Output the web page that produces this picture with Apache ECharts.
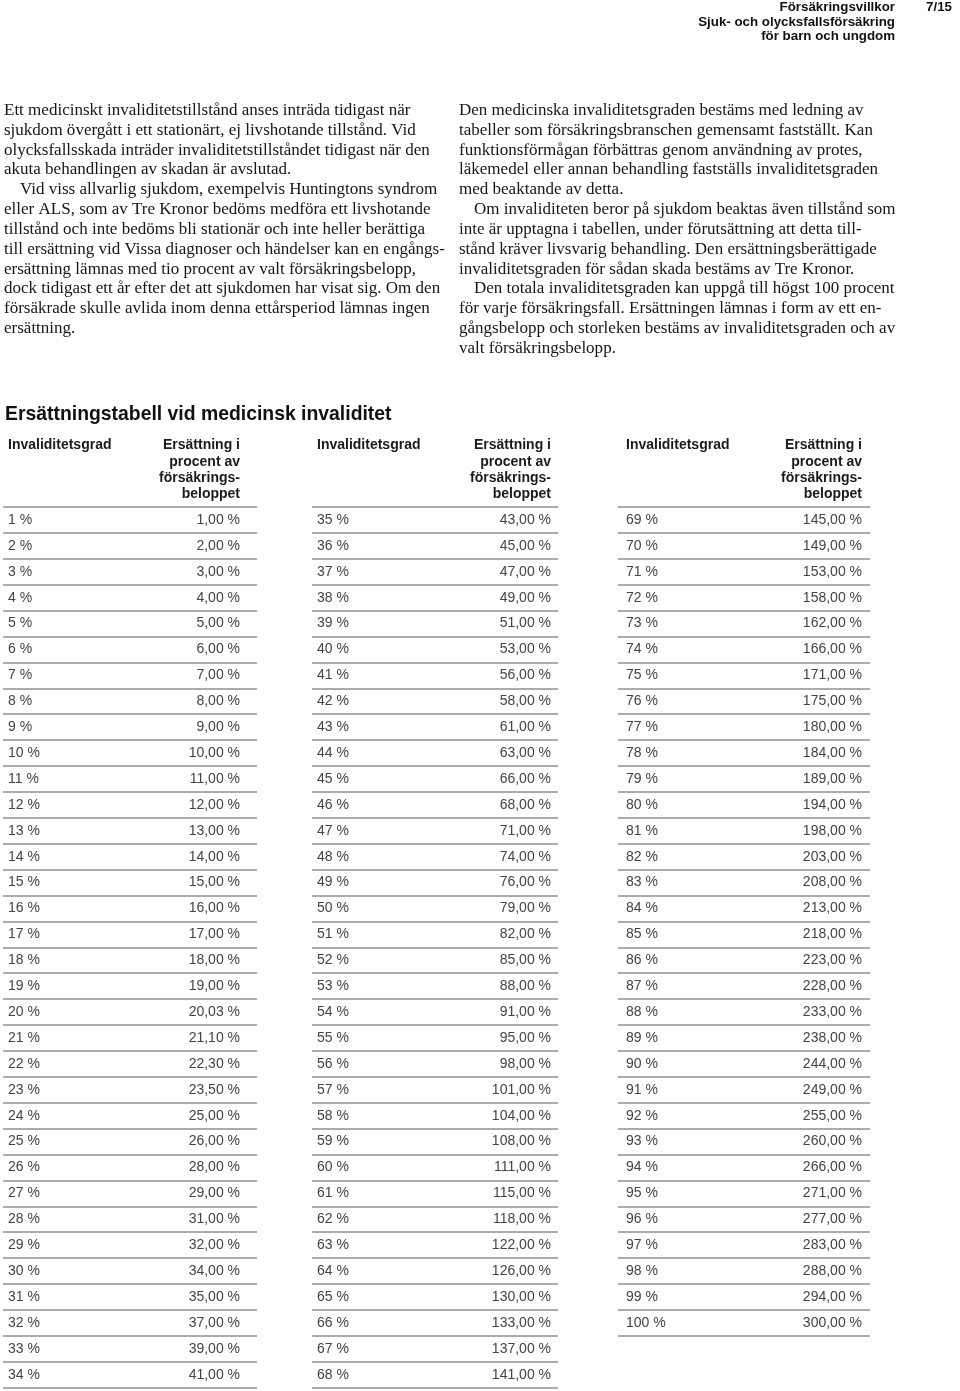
<!DOCTYPE html>
<html><head><meta charset="utf-8">
<script src="https://cdn.jsdelivr.net/npm/echarts@6/dist/echarts.min.js"></script>
<style>html,body{margin:0;padding:0;background:#fff}#c{width:960px;height:1391px}</style>
</head><body><div id="c"></div>
<script>
// ---- data ----
const degreesA = ["1 %","2 %","3 %","4 %","5 %","6 %","7 %","8 %","9 %","10 %","11 %","12 %","13 %","14 %","15 %","16 %","17 %","18 %","19 %","20 %","21 %","22 %","23 %","24 %","25 %","26 %","27 %","28 %","29 %","30 %","31 %","32 %","33 %","34 %"];
const valuesA = [1.00,2.00,3.00,4.00,5.00,6.00,7.00,8.00,9.00,10.00,11.00,12.00,13.00,14.00,15.00,16.00,17.00,18.00,19.00,20.03,21.10,22.30,23.50,25.00,26.00,28.00,29.00,31.00,32.00,34.00,35.00,37.00,39.00,41.00];
const degreesB = ["35 %","36 %","37 %","38 %","39 %","40 %","41 %","42 %","43 %","44 %","45 %","46 %","47 %","48 %","49 %","50 %","51 %","52 %","53 %","54 %","55 %","56 %","57 %","58 %","59 %","60 %","61 %","62 %","63 %","64 %","65 %","66 %","67 %","68 %"];
const valuesB = [43.00,45.00,47.00,49.00,51.00,53.00,56.00,58.00,61.00,63.00,66.00,68.00,71.00,74.00,76.00,79.00,82.00,85.00,88.00,91.00,95.00,98.00,101.00,104.00,108.00,111.00,115.00,118.00,122.00,126.00,130.00,133.00,137.00,141.00];
const degreesC = ["69 %","70 %","71 %","72 %","73 %","74 %","75 %","76 %","77 %","78 %","79 %","80 %","81 %","82 %","83 %","84 %","85 %","86 %","87 %","88 %","89 %","90 %","91 %","92 %","93 %","94 %","95 %","96 %","97 %","98 %","99 %","100 %"];
const valuesC = [145.00,149.00,153.00,158.00,162.00,166.00,171.00,175.00,180.00,184.00,189.00,194.00,198.00,203.00,208.00,213.00,218.00,223.00,228.00,233.00,238.00,244.00,249.00,255.00,260.00,266.00,271.00,277.00,283.00,288.00,294.00,300.00];
const headerDegree = "Invaliditetsgrad";
const headerValue = ["Ersättning i","procent av","försäkrings-","beloppet"];
const tableTitle = "Ersättningstabell vid medicinsk invaliditet";
const pageHeader = ["Försäkringsvillkor","Sjuk- och olycksfallsförsäkring","för barn och ungdom"];
const pageNumber = "7/15";
const leftText = [
 ["Ett medicinskt invaliditetstillstånd anses inträda tidigast när",0],
 ["sjukdom övergått i ett stationärt, ej livshotande tillstånd. Vid",0],
 ["olycksfallsskada inträder invaliditetstillståndet tidigast när den",0],
 ["akuta behandlingen av skadan är avslutad.",0],
 ["Vid viss allvarlig sjukdom, exempelvis Huntingtons syndrom",1],
 ["eller ALS, som av Tre Kronor bedöms medföra ett livshotande",0],
 ["tillstånd och inte bedöms bli stationär och inte heller berättiga",0],
 ["till ersättning vid Vissa diagnoser och händelser kan en engångs-",0],
 ["ersättning lämnas med tio procent av valt försäkringsbelopp,",0],
 ["dock tidigast ett år efter det att sjukdomen har visat sig. Om den",0],
 ["försäkrade skulle avlida inom denna ettårsperiod lämnas ingen",0],
 ["ersättning.",0]
];
const rightText = [
 ["Den medicinska invaliditetsgraden bestäms med ledning av",0],
 ["tabeller som försäkringsbranschen gemensamt fastställt. Kan",0],
 ["funktionsförmågan förbättras genom användning av protes,",0],
 ["läkemedel eller annan behandling fastställs invaliditetsgraden",0],
 ["med beaktande av detta.",0],
 ["Om invaliditeten beror på sjukdom beaktas även tillstånd som",1],
 ["inte är upptagna i tabellen, under förutsättning att detta till-",0],
 ["stånd kräver livsvarig behandling. Den ersättningsberättigade",0],
 ["invaliditetsgraden för sådan skada bestäms av Tre Kronor.",0],
 ["Den totala invaliditetsgraden kan uppgå till högst 100 procent",1],
 ["för varje försäkringsfall. Ersättningen lämnas i form av ett en-",0],
 ["gångsbelopp och storleken bestäms av invaliditetsgraden och av",0],
 ["valt försäkringsbelopp.",0]
];

// ---- helpers ----
const ctx = document.createElement('canvas').getContext('2d');
function fit(text, family, weight, target){
  ctx.font = weight + ' 20px ' + family;
  return 20 * target / ctx.measureText(text).width;
}
const fmt = v => v.toFixed(2).replace('.', ',') + ' %';
const SANS = '"Liberation Sans", Arial, sans-serif';
const SERIF = '"Liberation Serif", "Times New Roman", serif';
const serifSize = fit(leftText[7][0], SERIF, 'normal', 441);
const titleSize = fit(tableTitle, SANS, 'bold', 387);
const headSize = fit(pageHeader[1], SANS, 'bold', 197);

const ROW = 25.9, TOP = 507;
const cols = [
  {left:3, width:254, deg:degreesA, val:valuesA, padL:5, padR:17},
  {left:312, width:246, deg:degreesB, val:valuesB, padL:5, padR:7},
  {left:618, width:252, deg:degreesC, val:valuesC, padL:8, padR:8}
];

const graphic = [];
function txt(x, y, text, font, fill, align){
  graphic.push({type:'text', x:x, y:y, silent:true,
    style:{text:text, font:font, fill:fill, align:align||'left', verticalAlign:'middle'}});
}
// page header
pageHeader.forEach((t,i)=>txt(895, 7.5 + i*14.5, t, 'bold ' + headSize + 'px ' + SANS, '#111', 'right'));
txt(952, 7.5, pageNumber, 'bold ' + headSize + 'px ' + SANS, '#111', 'right');
// paragraphs
leftText.forEach((l,i)=>txt(4 + l[1]*16, 110.5 + i*19.82, l[0], serifSize + 'px ' + SERIF, '#161616'));
rightText.forEach((l,i)=>txt(459 + l[1]*15, 110.5 + i*19.82, l[0], serifSize + 'px ' + SERIF, '#161616'));
// table title
txt(5, 415, tableTitle, 'bold ' + titleSize + 'px ' + SANS, '#111');
// column headers
cols.forEach(c=>{
  txt(c.left + c.padL, 445.5, headerDegree, 'bold 14px ' + SANS, '#1a1a1a');
  headerValue.forEach((h,i)=>txt(c.left + c.width - c.padR, 445.5 + i*16.3, h, 'bold 14px ' + SANS, '#1a1a1a', 'right'));
});

const grid = [], xAxis = [], yAxis = [], series = [];
cols.forEach((c, k)=>{
  grid.push({left:c.left, top:TOP, width:c.width, height:c.deg.length*ROW, containLabel:false});
  xAxis.push({gridIndex:k, type:'value', min:0, max:1, show:false});
  yAxis.push({gridIndex:k, type:'category', inverse:true, data:c.deg, boundaryGap:true,
    axisLine:{show:false}, axisTick:{show:false, interval:0}, axisLabel:{show:false, interval:0},
    splitLine:{show:true, interval:0, lineStyle:{color:'#8f8f8f', width:1.5}}});
  series.push({type:'custom', xAxisIndex:k, yAxisIndex:k, silent:true,
    encode:{x:0, y:1},
    data:c.deg.map((d,i)=>[0, i]),
    renderItem:(params, api)=>{
      const i = params.dataIndex;
      const p = api.coord([0, api.value(1)]);
      const cs = params.coordSys;
      return {type:'group', children:[
        {type:'text', style:{x:cs.x + c.padL, y:p[1], text:c.deg[i], align:'left', verticalAlign:'middle',
          font:'14px ' + SANS, fill:'#444'}},
        {type:'text', style:{x:cs.x + cs.width - c.padR, y:p[1], text:fmt(c.val[i]), align:'right', verticalAlign:'middle',
          font:'14px ' + SANS, fill:'#444'}}
      ]};
    }
  });
});

const chart = echarts.init(document.getElementById('c'), null, {renderer:'canvas'});
chart.setOption({animation:false, backgroundColor:'#fff', grid, xAxis, yAxis, series, graphic});
</script></body></html>
